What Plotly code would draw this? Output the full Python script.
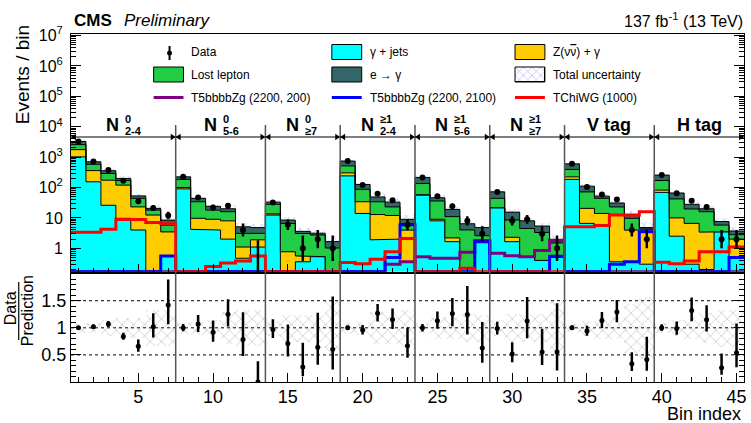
import numpy as np
import plotly.graph_objects as go

# ---------------- data ----------------
bins = np.arange(1, 46)

# predicted backgrounds per bin
gjets = [1020, 154, 26, 9.7, 4, 0.1, 0.56,
         90, 4.2, 4, 2, 0.47, 1.1,
         12.4, 0.02, 0.36, 0.53, 0.02,
         241, 14, 1.9, 2, 0.36,
         56, 8, 1.65, 0.02, 1.6,
         21.5, 1.65, 0.5, 0.4, 0.5,
         185, 6.6, 5.8, 0.36, 0.36, 0.3,
         69, 2.5, 0.3, 0.2, 3.5, 0.5]
zgamma = [740, 206, 148, 110, 19, 12.3, 2.9,
          10, 5.5, 5, 6, 0.63, 0.8,
          1.1, 0.75, 0.2, 0, 0,
          62, 20, 11, 10, 3.6,
          2, 1, 0.55, 0, 0,
          0, 0.65, 0, 0, 0,
          39, 14, 8.2, 12, 3.6, 3.7,
          13, 7.5, 6.3, 3.2, 0, 1.5]
lostlep = [810, 220, 115, 50, 21, 5.6, 2.3,
           85, 24.3, 9, 8, 2.0, 1.2,
           14.5, 5.8, 2.5, 2.2, 1.0,
           212, 53, 21, 11, 2.6,
           77, 27, 8.8, 4.0, 1.0,
           22.5, 6.2, 4.0, 2.9, 1.0,
           168, 51, 30, 10.6, 5.7, 0.3,
           88, 32, 13, 12.6, 2.3, 0.8]
efake = [690, 120, 66, 29, 9, 2.6, 2.7,
         39, 10, 6, 4, 2.0, 1.7,
         5, 1.9, 0.55, 0.4, 0.64,
         225, 39, 15, 10, 2.4,
         79, 10, 8, 2.4, 2.2,
         28, 7.0, 3.5, 2.1, 0.3,
         208, 39, 8, 8, 2.3, 0.5,
         86, 24, 8.4, 4, 1.8, 0.9]

# relative total uncertainty on the prediction
rel_unc = [0.08, 0.09, 0.15, 0.18, 0.18, 0.33, 0.33,
           0.10, 0.12, 0.15, 0.30, 0.33, 0.33,
           0.14, 0.25, 0.25, 0.25, 0.50,
           0.10, 0.12, 0.30, 0.30, 0.34,
           0.09, 0.20, 0.20, 0.26, 0.25,
           0.15, 0.26, 0.26, 0.26, 0.50,
           0.07, 0.14, 0.20, 0.20, 0.45, 0.57,
           0.09, 0.15, 0.20, 0.28, 0.34, 0.34]

# observed events
data = [3260, 714, 380, 167, 35, 21, 12,
        224, 47, 22, 25, 4, 0,
        32, 6, 1, 2, 1,
        740, 121, 62, 38, 6,
        214, 52, 24, 8, 3,
        71, 8, 9, 3, 1,
        600, 104, 59, 40, 4, 2,
        256, 65, 37, 23, 2, 2]

# signal models
sig_t5_200 = [0] * 21 + [0.3, 0.36, 0.53, 0.47, 0.47, 0.74, 1.8,
                         0.69, 0.57, 0.53, 0.85, 1.85] + [0] * 12
sig_t5_2100 = [0, 0, 0, 0, 0, 0, 0.56,
               0, 0, 0, 0, 0, 0,
               0, 0, 0, 0, 0,
               0, 0, 0, 0.5, 6.0,
               0, 0, 0, 0, 1.65,
               0, 0, 0, 0, 0.55,
               0, 0, 0, 0.3, 0.36, 3.5,
               0, 0, 0, 0, 0, 0.5]
sig_chiwg = [3.4, 3.4, 4.2, 8.9, 8.9, 7.0, 6.4,
             0, 0, 0.25, 0.33, 0.38, 0.56,
             0, 0, 0, 0, 0,
             0.34, 0.31, 0.44, 0.77, 2.1,
             0, 0, 0, 0.22, 0,
             0, 0, 0, 0, 0,
             5.1, 5.1, 5.6, 12.4, 12.4, 16,
             0.35, 0.31, 0.38, 0.77, 0.77, 1.1]

# search regions: (main symbol, superscript, subscript, number of bins)
regions = [("N", "0", "2-4", 7), ("N", "0", "5-6", 6), ("N", "0", "≥7", 5),
           ("N", "≥1", "2-4", 5), ("N", "≥1", "5-6", 5), ("N", "≥1", "≥7", 5),
           ("V tag", "", "", 6), ("H tag", "", "", 6)]

x_ticks = [5, 10, 15, 20, 25, 30, 35, 40, 45]

# ---------------- styling ----------------
C_GJ = "#00ffff"
C_ZG = "#ffcc00"
C_LL = "#22cc44"
C_EF = "#336666"
C_HATCH = "#5b5bd0"
FONT = "Liberation Sans, Arial, Helvetica, sans-serif"

W, H = 751, 423
ML, MR, MT, MB = 71, 4, 34, 41
PW, PH = W - ML - MR, H - MT - MB

def pxx(x):
    return (x - ML) / PW

def pxy(y):
    return (H - MB - y) / PH

LOG_MIN, LOG_MAX = -0.77, 7.05
FLOOR = 10 ** LOG_MIN
MAIN_DOM = [pxy(271.7), 1.0]
RATIO_DOM = [0.0, pxy(273.6)]

gjets, zgamma, lostlep, efake = map(np.array, (gjets, zgamma, lostlep, efake))
rel_unc = np.array(rel_unc)
data = np.array(data, dtype=float)
total = gjets + zgamma + lostlep + efake


def steps(vals):
    xs, ys = [], []
    for b, v in zip(bins, vals):
        xs += [b - 0.5, b + 0.5]
        ys += [v, v]
    return xs, ys


fig = go.Figure()

# stacked backgrounds drawn as filled step outlines
xs, ys = steps(np.full(len(bins), 1e-3))
fig.add_trace(go.Scatter(x=xs, y=ys, mode="lines", line=dict(width=0),
                         showlegend=False, hoverinfo="skip"))
cum = np.zeros(len(bins))
for comp, col in [(gjets, C_GJ), (zgamma, C_ZG), (lostlep, C_LL), (efake, C_EF)]:
    cum = cum + comp
    xs, ys = steps(np.maximum(cum, 1e-3))
    fig.add_trace(go.Scatter(x=xs, y=ys, mode="lines", fill="tonexty",
                             fillcolor=col, line=dict(color="black", width=1),
                             showlegend=False, hoverinfo="skip"))

# total uncertainty hatch
band_lo = np.maximum(total * (1 - rel_unc), 1e-3)
band_hi = total * (1 + rel_unc)
fig.add_trace(go.Bar(x=bins, y=band_hi - band_lo, base=band_lo, width=1,
                     marker=dict(color="rgba(0,0,0,0)", line=dict(width=0),
                                 pattern=dict(shape="x", fgcolor=C_HATCH,
                                              bgcolor="rgba(0,0,0,0)",
                                              size=6, solidity=0.2,
                                              fillmode="overlay")),
                     showlegend=False, hoverinfo="skip"))

# signal models
for sig, col in [(sig_t5_200, "#800080"), (sig_t5_2100, "#0000ff"), (sig_chiwg, "#ff0000")]:
    xs, ys = steps(np.maximum(np.array(sig, dtype=float), FLOOR))
    fig.add_trace(go.Scatter(x=xs, y=ys, mode="lines",
                             line=dict(color=col, width=3),
                             showlegend=False, hoverinfo="skip"))

# Poisson-like error bars on data
err_hi = np.where(data == 0, 1.841, 0.5 + np.sqrt(data + 0.25))
err_lo = np.where(data == 0, 0.0, np.sqrt(data + 0.25) - 0.5)
nz = data > 0
fig.add_trace(go.Scatter(x=bins[nz], y=data[nz], mode="markers",
                         marker=dict(color="black", size=6),
                         error_y=dict(type="data", symmetric=False,
                                      array=err_hi[nz], arrayminus=err_lo[nz],
                                      color="black", thickness=2.5, width=0),
                         showlegend=False, hoverinfo="skip"))
for b, e in zip(bins[~nz], err_hi[~nz]):
    fig.add_trace(go.Scatter(x=[b, b], y=[FLOOR * 0.5, e], mode="lines",
                             line=dict(color="black", width=2.5),
                             showlegend=False, hoverinfo="skip"))

# ---------------- ratio panel ----------------
fig.add_trace(go.Bar(x=bins, y=2 * rel_unc, base=1 - rel_unc, width=1,
                     xaxis="x2", yaxis="y2",
                     marker=dict(color="rgba(0,0,0,0)", line=dict(width=0),
                                 pattern=dict(shape="x", fgcolor="#a8a8a8",
                                              bgcolor="rgba(0,0,0,0)",
                                              size=8, solidity=0.22,
                                              fillmode="overlay")),
                     showlegend=False, hoverinfo="skip"))
ratio = data / total
fig.add_trace(go.Scatter(x=bins, y=ratio, mode="markers", xaxis="x2", yaxis="y2",
                         marker=dict(color="black", size=5),
                         error_y=dict(type="data", symmetric=False,
                                      array=err_hi / total, arrayminus=err_lo / total,
                                      color="black", thickness=2.5, width=0),
                         showlegend=False, hoverinfo="skip"))

shapes = []
for lvl in (0.5, 1.0, 1.5):
    shapes.append(dict(type="line", xref="x2", yref="y2", x0=0.5, x1=45.5,
                       y0=lvl, y1=lvl, line=dict(color="black", width=1, dash="dot"),
                       layer="below"))

# region separators, arrows and labels
annotations = []
edge = 0.5
arrow_y = pxy(137)
top_y = pxy(125)
tri_w, tri_h = 0.33, 3.2 / PH
for i, (sym, sup, sub, n) in enumerate(regions):
    lo, hi = edge, edge + n
    centre = (lo + hi) / 2
    if i > 0:
        shapes.append(dict(type="line", xref="x", yref="paper", x0=lo, x1=lo,
                           y0=0, y1=top_y, line=dict(color="#555555", width=1.5),
                           layer="above"))
    shapes.append(dict(type="line", xref="x", yref="paper", x0=lo, x1=hi,
                       y0=arrow_y, y1=arrow_y, line=dict(color="black", width=1)))
    shapes.append(dict(type="path", xref="x", yref="paper",
                       path=f"M {lo} {arrow_y} L {lo + tri_w} {arrow_y + tri_h} "
                            f"L {lo + tri_w} {arrow_y - tri_h} Z",
                       fillcolor="black", line=dict(width=0)))
    shapes.append(dict(type="path", xref="x", yref="paper",
                       path=f"M {hi} {arrow_y} L {hi - tri_w} {arrow_y + tri_h} "
                            f"L {hi - tri_w} {arrow_y - tri_h} Z",
                       fillcolor="black", line=dict(width=0)))
    if sup or sub:
        annotations.append(dict(x=centre, y=pxy(125), xref="x", yref="paper",
                                text=f"<b>{sym}</b>", showarrow=False,
                                xanchor="right", yanchor="middle", xshift=-2,
                                font=dict(size=18, family=FONT, color="black")))
        annotations.append(dict(x=centre, y=pxy(118.5), xref="x", yref="paper",
                                text=f"<b>{sup}</b>", showarrow=False,
                                xanchor="left", yanchor="middle", xshift=0,
                                font=dict(size=11, family=FONT, color="black")))
        annotations.append(dict(x=centre, y=pxy(131), xref="x", yref="paper",
                                text=f"<b>{sub}</b>", showarrow=False,
                                xanchor="left", yanchor="middle", xshift=0,
                                font=dict(size=11, family=FONT, color="black")))
    else:
        annotations.append(dict(x=centre, y=pxy(125), xref="x", yref="paper",
                                text=f"<b>{sym}</b>", showarrow=False,
                                xanchor="center", yanchor="middle",
                                font=dict(size=18, family=FONT, color="black")))
    edge = hi

# ---------------- legend (drawn by hand, three columns) ----------------
leg_font = dict(size=12, family=FONT, color="black")
rows_y = [52, 74.5, 97.5]
cols_x = [154, 333, 517]
box_w, box_h = 30, 15


def leg_box(cx, cy, col):
    shapes.append(dict(type="rect", xref="paper", yref="paper",
                       x0=pxx(cx), x1=pxx(cx + box_w),
                       y0=pxy(cy + box_h / 2), y1=pxy(cy - box_h / 2),
                       fillcolor=col, line=dict(color="black", width=1)))


def leg_line(cx, cy, col):
    shapes.append(dict(type="line", xref="paper", yref="paper",
                       x0=pxx(cx), x1=pxx(cx + box_w), y0=pxy(cy), y1=pxy(cy),
                       line=dict(color=col, width=3)))


def leg_text(cx, cy, txt):
    annotations.append(dict(x=pxx(cx + box_w + 6), y=pxy(cy), xref="paper",
                            yref="paper", text=txt, showarrow=False,
                            xanchor="left", yanchor="middle", font=leg_font))


# Data marker
shapes.append(dict(type="line", xref="paper", yref="paper",
                   x0=pxx(170), x1=pxx(170), y0=pxy(46), y1=pxy(60),
                   line=dict(color="black", width=2)))
shapes.append(dict(type="circle", xref="paper", yref="paper",
                   x0=pxx(167.5), x1=pxx(172.5), y0=pxy(55.5), y1=pxy(50.5),
                   fillcolor="black", line=dict(width=0)))
leg_text(cols_x[0], rows_y[0], "Data")
leg_box(cols_x[1], rows_y[0], C_GJ)
leg_text(cols_x[1], rows_y[0], "γ + jets")
leg_box(cols_x[2], rows_y[0], C_ZG)
leg_text(cols_x[2], rows_y[0],
         "Z(ν<span style='text-decoration:overline'>ν</span>) + γ")
leg_box(cols_x[0], rows_y[1], C_LL)
leg_text(cols_x[0], rows_y[1], "Lost lepton")
leg_box(cols_x[1], rows_y[1], C_EF)
leg_text(cols_x[1], rows_y[1], "e → γ")
leg_text(cols_x[2], rows_y[1], "Total uncertainty")
leg_line(cols_x[0], rows_y[2], "#800080")
leg_text(cols_x[0], rows_y[2], "T5bbbbZg (2200, 200)")
leg_line(cols_x[1], rows_y[2], "#0000ff")
leg_text(cols_x[1], rows_y[2], "T5bbbbZg (2200, 2100)")
leg_line(cols_x[2], rows_y[2], "#ff0000")
leg_text(cols_x[2], rows_y[2], "TChiWG (1000)")

# hatched legend swatch on its own small axes
hx0, hx1 = pxx(cols_x[2]), pxx(cols_x[2] + box_w)
hy0, hy1 = pxy(rows_y[1] + box_h / 2), pxy(rows_y[1] - box_h / 2)
fig.add_trace(go.Bar(x=[0.5], y=[1], width=1, xaxis="x3", yaxis="y3",
                     marker=dict(color="white", line=dict(color="black", width=1),
                                 pattern=dict(shape="x", fgcolor=C_HATCH,
                                              bgcolor="white", size=6,
                                              solidity=0.2, fillmode="overlay")),
                     showlegend=False, hoverinfo="skip"))
shapes.append(dict(type="rect", xref="paper", yref="paper",
                   x0=hx0, x1=hx1, y0=hy0, y1=hy1,
                   fillcolor="rgba(0,0,0,0)", line=dict(color="black", width=1)))

# ---------------- text ----------------
annotations += [
    dict(x=pxx(72), y=pxy(20), xref="paper", yref="paper", text="<b>CMS</b>",
         showarrow=False, xanchor="left", yanchor="middle",
         font=dict(size=17, family=FONT, color="black")),
    dict(x=pxx(122), y=pxy(20), xref="paper", yref="paper", text="<i>Preliminary</i>",
         showarrow=False, xanchor="left", yanchor="middle",
         font=dict(size=17, family=FONT, color="black")),
    dict(x=pxx(748), y=pxy(20), xref="paper", yref="paper",
         text="137 fb<sup>-1</sup> (13 TeV)", showarrow=False,
         xanchor="right", yanchor="middle",
         font=dict(size=16, family=FONT, color="black")),
    dict(x=pxx(22), y=pxy(75), xref="paper", yref="paper", text="Events / bin",
         textangle=-90, showarrow=False, xanchor="center", yanchor="middle",
         font=dict(size=19, family=FONT, color="black")),
    dict(x=pxx(10), y=pxy(308), xref="paper", yref="paper", text="Data",
         textangle=-90, showarrow=False, xanchor="center", yanchor="middle",
         font=dict(size=16, family=FONT, color="black")),
    dict(x=pxx(27), y=pxy(311), xref="paper", yref="paper", text="Prediction",
         textangle=-90, showarrow=False, xanchor="center", yanchor="middle",
         font=dict(size=16, family=FONT, color="black")),
    dict(x=pxx(746), y=pxy(414), xref="paper", yref="paper", text="Bin index",
         showarrow=False, xanchor="right", yanchor="middle",
         font=dict(size=18, family=FONT, color="black")),
]
shapes.append(dict(type="line", xref="paper", yref="paper",
                   x0=pxx(18.5), x1=pxx(18.5), y0=pxy(282), y1=pxy(340),
                   line=dict(color="black", width=1.2)))

# ---------------- axes ----------------
decades = [10.0 ** k for k in range(0, 8)]
dec_text = ["1", "10"] + [f"10<sup>{k}</sup>" for k in range(2, 8)]
minor_log = [m * 10.0 ** k for k in range(-1, 7) for m in range(2, 10)]

axis_common = dict(showgrid=False, zeroline=False, showline=True,
                   linecolor="black", linewidth=1, ticks="inside",
                   tickcolor="black", tickwidth=1)

fig.update_layout(
    width=W, height=H,
    margin=dict(l=ML, r=MR, t=MT, b=MB),
    paper_bgcolor="white", plot_bgcolor="white",
    barmode="overlay", bargap=0,
    showlegend=False,
    font=dict(family=FONT, color="black"),
    xaxis=dict(**axis_common, domain=[0, 1], anchor="y", range=[0.5, 45.5],
               mirror=True, tickvals=x_ticks, ticklen=8, showticklabels=False,
               minor=dict(ticks="inside", dtick=1, tick0=0, ticklen=4,
                          tickcolor="black")),
    yaxis=dict(**axis_common, domain=MAIN_DOM, anchor="x", type="log",
               range=[LOG_MIN, LOG_MAX], mirror="ticks",
               tickvals=decades, ticktext=dec_text, ticklen=10,
               tickfont=dict(size=16, family=FONT, color="black"),
               ticklabelstandoff=4,
               minor=dict(ticks="inside", tickmode="array", tickvals=minor_log,
                          ticklen=5, tickcolor="black")),
    xaxis2=dict(**axis_common, domain=[0, 1], anchor="y2", range=[0.5, 45.5],
                mirror=True, tickvals=x_ticks, ticklen=9,
                tickfont=dict(size=18, family=FONT, color="black"),
                ticklabelstandoff=-2,
                minor=dict(ticks="inside", dtick=1, tick0=0, ticklen=5,
                           tickcolor="black")),
    yaxis2=dict(**axis_common, domain=RATIO_DOM, anchor="x2", range=[0, 2],
                mirror="ticks", tickvals=[0.5, 1, 1.5], ticktext=["0.5", "1", "1.5"],
                ticklen=10, tickfont=dict(size=18, family=FONT, color="black"),
                minor=dict(ticks="inside", dtick=0.1, tick0=0, ticklen=5,
                           tickcolor="black")),
    xaxis3=dict(domain=[hx0, hx1], anchor="y3", range=[0, 1], visible=False,
                fixedrange=True),
    yaxis3=dict(domain=[hy0, hy1], anchor="x3", range=[0, 1], visible=False,
                fixedrange=True),
    shapes=shapes,
    annotations=annotations,
)

fig.write_html("out.html")
